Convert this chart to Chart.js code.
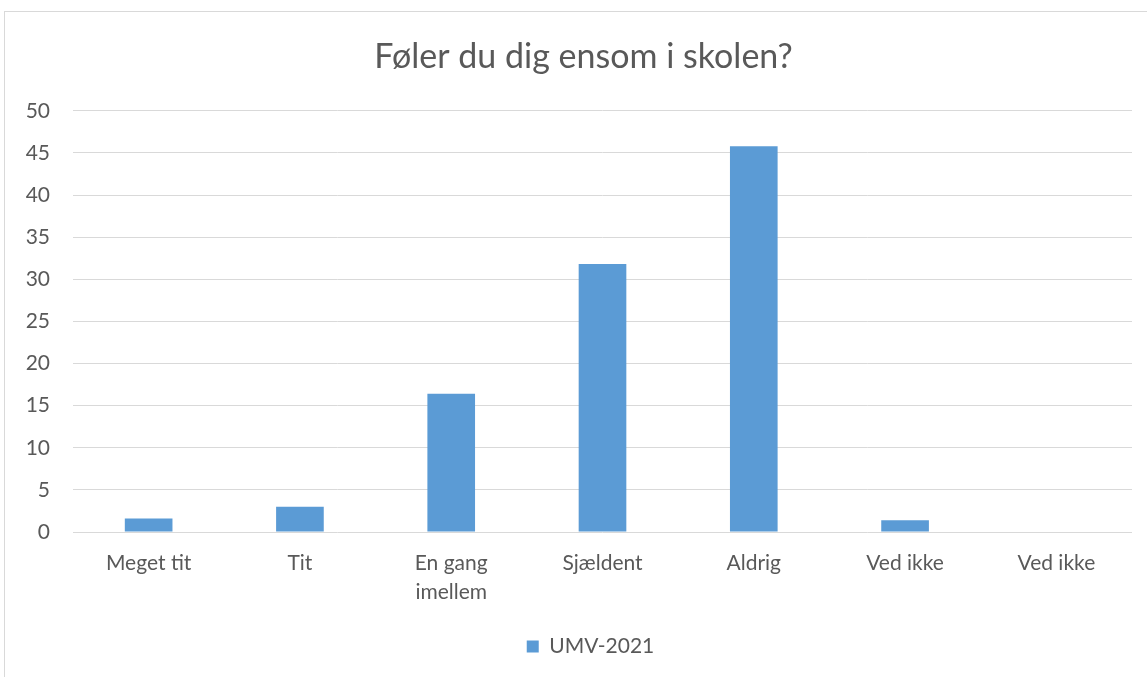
<!DOCTYPE html>
<html>
<head>
<meta charset="utf-8">
<script src="https://cdn.jsdelivr.net/npm/chart.js@4"></script>
<style>
  body { margin: 0; background: #fff; overflow: hidden; }
  #frame { position: absolute; left: 4px; top: 11px; width: 1150px; height: 680px; border: 1px solid #d9d9d9; }
  #box { width: 1143px; height: 665px; }
</style>
</head>
<body>
<div id="frame"><div id="box"><canvas id="ensomCanvas"></canvas></div></div>
<script>
var categories = ["Meget tit", "Tit", ["En gang", "imellem"], "Sjældent", "Aldrig", "Ved ikke", "Ved ikke"];
var umv2021 = [1.6, 3.0, 16.4, 31.8, 45.8, 1.4, 0];
var yTicks = [0, 5, 10, 15, 20, 25, 30, 35, 40, 45, 50];

var textColor = "#595959";
var fontFamily = "Lato, 'Open Sans', sans-serif";

// Excel centres title and legend on the whole chart frame, a bit right of the plot
var shiftBlocks = {
  id: "shiftBlocks",
  afterLayout: function (chart) {
    if (chart.titleBlock) { chart.titleBlock.left += 15; chart.titleBlock.right += 15; }
    if (chart.legend) { chart.legend.left += 22; chart.legend.right += 22; }
  },
};

var ctx = document.getElementById("ensomCanvas").getContext("2d");
var ensomChart = new Chart(ctx, {
  type: "bar",
  data: {
    labels: categories,
    datasets: [
      {
        label: "UMV-2021",
        data: umv2021,
        backgroundColor: "#5b9bd5",
        borderWidth: 0,
        categoryPercentage: 1,
        barPercentage: 0.315,
      },
    ],
  },
  plugins: [shiftBlocks],
  options: {
    responsive: true,
    maintainAspectRatio: false,
    animation: false,
    layout: { padding: { left: 0, right: 16, top: 0, bottom: 10 } },
    plugins: {
      title: {
        display: true,
        text: "Føler du dig ensom i skolen?",
        color: textColor,
        font: { family: fontFamily, size: 34, weight: "normal", lineHeight: 1.2 },
        padding: { top: 25, bottom: 33 },
      },
      legend: {
        position: "bottom",
        labels: {
          color: textColor,
          boxWidth: 12,
          boxHeight: 12,
          font: { family: fontFamily, size: 21 },
        },
      },
      tooltip: { enabled: false },
    },
    scales: {
      x: {
        grid: { display: false, drawTicks: false },
        border: { display: false },
        ticks: {
          color: textColor,
          padding: 17,
          maxRotation: 0,
          font: { family: fontFamily, size: 21, lineHeight: 1.38 },
        },
        afterFit: function (scale) { scale.height = 94; },
      },
      y: {
        min: 0,
        max: 50,
        grid: { color: "#d9d9d9", lineWidth: 1, drawTicks: false },
        border: { display: false },
        afterBuildTicks: function (scale) {
          scale.ticks = yTicks.map(function (v) { return { value: v }; });
        },
        ticks: {
          color: textColor,
          padding: 23,
          font: { family: fontFamily, size: 21 },
        },
        afterFit: function (scale) { scale.width = 68; },
      },
    },
  },
});
</script>
</body>
</html>
